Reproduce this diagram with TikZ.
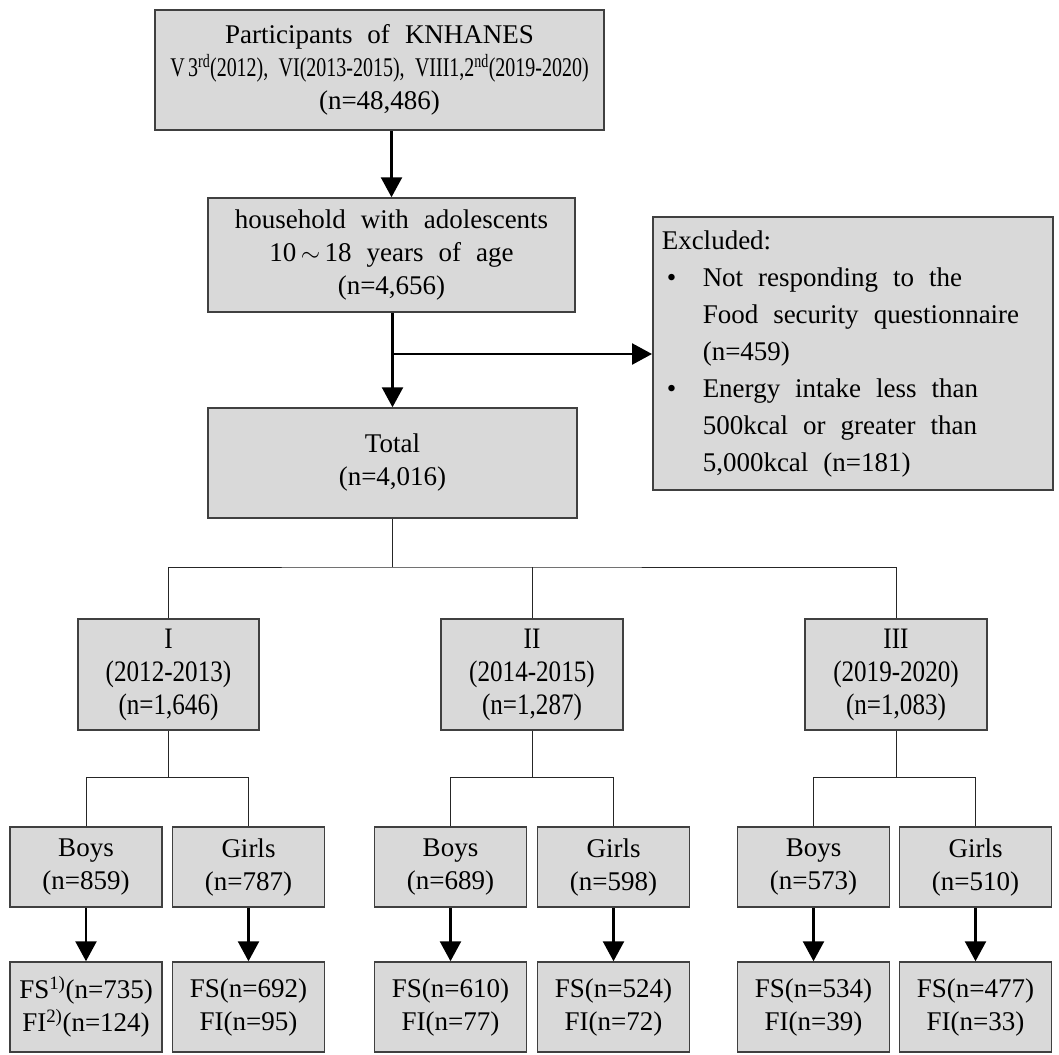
\documentclass[tikz,border=0pt]{standalone}
\usepackage{fontspec}
\setmainfont{Liberation Serif}
\usetikzlibrary{arrows.meta}
\newcommand{\boxfont}{\fontsize{27}{33}\selectfont\spaceskip=15pt plus 2pt minus 2pt\relax}
\newcommand{\tall}[1]{\scalebox{0.93}[1.1]{#1}}
\tikzset{
  box/.style={draw=black!75, fill=black!15, line width=1.5pt, align=center, inner sep=0pt,
    font=\boxfont},
  arr/.style={line width=2.5pt, -{Triangle[length=20pt,width=21pt]}},
  tree/.style={line width=1pt, black!85},
}
\begin{document}
\begin{tikzpicture}[x=1pt,y=-1pt]
\useasboundingbox (0,0) rectangle (1059,1054);
% top of the chart
\node[box, minimum width=449pt, minimum height=120pt] (part) at (379.5,70)
  {Participants of KNHANES\\
   \scalebox{0.74}[1]{V\,3\textsuperscript{rd}(2012),\hspace{14pt}VI(2013-2015),\hspace{14pt}VIII1,2\textsuperscript{nd}(2019-2020)}\\
   (n=48,486)};
\node[box, minimum width=367pt, minimum height=114pt] (house) at (391.5,255)
  {household with adolescents\\ 10\,$\sim$\,18 years of age\\ (n=4,656)};
\node[box, text width=400pt, minimum height=273pt, anchor=north west, align=left] (excl) at (652,216)
  {\fontsize{27}{37}\selectfont\spaceskip=15pt plus 2pt minus 2pt\relax
   \begin{tabular}{@{\hspace{9pt}}p{41pt}@{}l@{}}
   \multicolumn{2}{@{\hspace{9pt}}l}{Excluded:}\\
   \hspace{5pt}\textbullet & Not responding to the\\
               & Food security questionnaire\\
               & (n=459)\\
   \hspace{5pt}\textbullet & Energy intake less than\\
               & 500kcal or greater than\\
               & 5,000kcal (n=181)
   \end{tabular}};
\node[box, minimum width=369pt, minimum height=110pt] (total) at (392.5,463)
  {Total\\ (n=4,016)};
\draw[arr] (part.south -| house.north) -- (house.north);
\draw[arr] (house.south -| total.north) -- (total.north);
\coordinate (split) at (total.north |- 0,354);
\draw[arr] (split) -- (split -| excl.west);
% periods
\node[box, minimum width=181pt, minimum height=111pt] (pI) at (168.5,674.5)
  {\tall{I}\\ \tall{(2012-2013)}\\ \tall{(n=1,646)}};
\node[box, minimum width=182pt, minimum height=111pt] (pII) at (532,674.5)
  {\tall{II}\\ \tall{(2014-2015)}\\ \tall{(n=1,287)}};
\node[box, minimum width=182pt, minimum height=111pt] (pIII) at (896,674.5)
  {\tall{III}\\ \tall{(2019-2020)}\\ \tall{(n=1,083)}};
\coordinate (fork) at (total.south |- 0,567);
\draw[tree] (total.south) -- (fork);
\draw[tree] (pI.north) |- (fork) -| (pIII.north);
\draw[tree] (pII.north) -- (pII.north |- fork);
% boys and girls
\foreach \p/\bx/\gx/\nb/\ng/\fsb/\fib/\fsg/\fig in
  {I/86/248.5/859/787/{\textsuperscript{1)}(n=735)}/{\textsuperscript{2)}(n=124)}/{(n=692)}/{(n=95)},
   II/450.5/613.5/689/598/{(n=610)}/{(n=77)}/{(n=524)}/{(n=72)},
   III/813.5/975.5/573/510/{(n=534)}/{(n=39)}/{(n=477)}/{(n=33)}}{
  \node[box, minimum width=152pt, minimum height=80pt] (b\p) at (\bx,867) {Boys\\ (n=\nb)};
  \node[box, minimum width=152pt, minimum height=80pt] (g\p) at (\gx,867) {Girls\\ (n=\ng)};
  \node[box, minimum width=152pt, minimum height=90pt] (fb\p) at (\bx,1007) {FS\fsb\\ FI\fib};
  \node[box, minimum width=152pt, minimum height=90pt] (fg\p) at (\gx,1007) {FS\fsg\\ FI\fig};
  \coordinate (sub\p) at (p\p.south |- 0,777);
  \draw[tree] (p\p.south) -- (sub\p);
  \draw[tree] (b\p.north) |- (sub\p) -| (g\p.north);
  \draw[arr] (b\p.south) -- (fb\p.north);
  \draw[arr] (g\p.south) -- (fg\p.north);
}
\end{tikzpicture}
\end{document}
